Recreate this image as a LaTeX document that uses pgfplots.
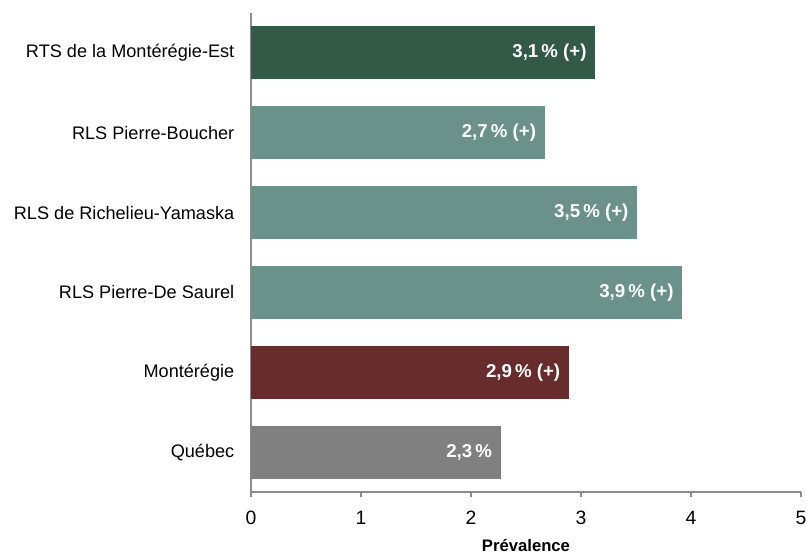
\documentclass[border=0pt]{standalone}
\usepackage{pgfplots}
\pgfplotsset{compat=1.18}
\usepackage{fontspec}
\setmainfont{Liberation Sans}
\definecolor{dkgreen}{HTML}{325A46}
\definecolor{teal2}{HTML}{6A918A}
\definecolor{dkred}{HTML}{692C2D}
\definecolor{qcgrey}{HTML}{808080}
\definecolor{axgrey}{HTML}{8C8C8C}
\begin{document}
\begin{tikzpicture}
\begin{axis}[
  at={(0,0)}, anchor=south west,
  scale only axis, width=412.5pt, height=359.25pt,
  xmin=0, xmax=5, ymin=-0.5, ymax=5.5,
  xtick={0,1,2,3,4,5}, ytick={0,1,2,3,4,5},
  yticklabels={Québec, Montérégie, RLS Pierre-De Saurel, RLS de Richelieu-Yamaska, RLS Pierre-Boucher, RTS de la Montérégie-Est},
  axis x line=bottom, axis y line=left,
  axis line style={-, draw=axgrey, line width=0.8pt},
  tick align=outside,
  xtick style={draw=axgrey, line width=0.8pt},
  major tick length=4pt,
  ytick style={draw=none},
  tick label style={font=\fontsize{13.6}{15}\selectfont, text=black},
  y tick label style={xshift=-5pt},
  x tick label style={yshift=-7pt, font=\fontsize{14.5}{16}\selectfont},
  /pgf/number format/assume math mode=true,
  xlabel={Prévalence},
  xlabel style={font=\fontsize{12.5}{14}\selectfont\bfseries, at={(axis description cs:0.5,0)}, anchor=center, yshift=-40pt},
  xbar, bar width=39.75pt, bar shift=0pt,
  every node near coord/.append style={anchor=east, xshift=-3pt, text=white, font=\fontsize{14}{16}\selectfont\bfseries},
  clip=false,
]
\addplot[fill=dkgreen, draw=none, nodes near coords={3,1\,\% (+)}] coordinates {(3.13,5)};
\addplot[fill=teal2, draw=none, nodes near coords={2,7\,\% (+)}] coordinates {(2.67,4)};
\addplot[fill=teal2, draw=none, nodes near coords={3,5\,\% (+)}] coordinates {(3.51,3)};
\addplot[fill=teal2, draw=none, nodes near coords={3,9\,\% (+)}] coordinates {(3.92,2)};
\addplot[fill=dkred, draw=none, nodes near coords={2,9\,\% (+)}] coordinates {(2.89,1)};
\addplot[fill=qcgrey, draw=none, nodes near coords={2,3\,\%}] coordinates {(2.27,0)};
\end{axis}
\pgfresetboundingbox
\path[use as bounding box] (-188.25pt,-47.25pt) rectangle (417pt,369pt);
\end{tikzpicture}
\end{document}
